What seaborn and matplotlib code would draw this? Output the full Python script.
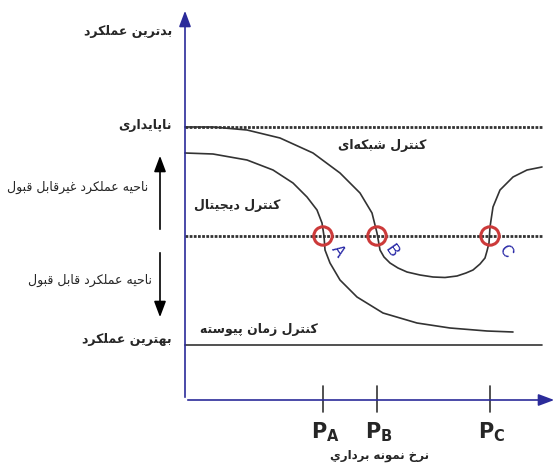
import matplotlib
matplotlib.use("Agg")
import matplotlib.pyplot as plt
import seaborn as sns
import pandas as pd

# Conceptual chart: performance vs. sampling rate (pixel-space reading of the picture)
digital_x = [185, 213, 247, 273, 293, 307, 317, 322, 324, 325, 330, 340, 357, 383, 417, 450, 487, 513]
digital_y = [153, 154, 160, 170, 183, 197, 210, 223, 236, 250, 263, 280, 297, 313, 323, 328, 331, 332]

network_x = [185, 213, 247, 280, 313, 340, 360, 372, 377, 380, 384, 390, 398, 407, 420, 433, 445,
             457, 466, 473, 480, 485, 487, 489, 490, 493, 500, 513, 527, 542]
network_y = [127, 127, 130, 138, 153, 173, 193, 213, 233, 250, 257, 263, 268, 272, 275, 277, 277.5,
             276, 273, 270, 264, 258, 251, 243, 227, 207, 190, 177, 170, 167]

point_names = ["A", "B", "C"]
point_x = [323, 377, 490]
threshold_y = 236
unstable_y = 127
best_y = 345
axis_y = 400
axis_x = 185

tick_labels = [r"$\mathbf{P}_{\mathbf{A}}$", r"$\mathbf{P}_{\mathbf{B}}$", r"$\mathbf{P}_{\mathbf{C}}$"]

# --- minimal Arabic/Persian shaping (presentation forms) ---
FORMS = {
    # char: (isolated, final, initial, medial)
    "\u0627": ("\uFE8D", "\uFE8E", None, None),
    "\u0628": ("\uFE8F", "\uFE90", "\uFE91", "\uFE92"),
    "\u067E": ("\uFB56", "\uFB57", "\uFB58", "\uFB59"),
    "\u062A": ("\uFE95", "\uFE96", "\uFE97", "\uFE98"),
    "\u062C": ("\uFE9D", "\uFE9E", "\uFE9F", "\uFEA0"),
    "\u062D": ("\uFEA1", "\uFEA2", "\uFEA3", "\uFEA4"),
    "\u062E": ("\uFEA5", "\uFEA6", "\uFEA7", "\uFEA8"),
    "\u062F": ("\uFEA9", "\uFEAA", None, None),
    "\u0631": ("\uFEAD", "\uFEAE", None, None),
    "\u0632": ("\uFEAF", "\uFEB0", None, None),
    "\u0633": ("\uFEB1", "\uFEB2", "\uFEB3", "\uFEB4"),
    "\u0634": ("\uFEB5", "\uFEB6", "\uFEB7", "\uFEB8"),
    "\u0639": ("\uFEC9", "\uFECA", "\uFECB", "\uFECC"),
    "\u063A": ("\uFECD", "\uFECE", "\uFECF", "\uFED0"),
    "\u0642": ("\uFED5", "\uFED6", "\uFED7", "\uFED8"),
    "\u06A9": ("\uFB8E", "\uFB8F", "\uFB90", "\uFB91"),
    "\u0644": ("\uFEDD", "\uFEDE", "\uFEDF", "\uFEE0"),
    "\u0645": ("\uFEE1", "\uFEE2", "\uFEE3", "\uFEE4"),
    "\u0646": ("\uFEE5", "\uFEE6", "\uFEE7", "\uFEE8"),
    "\u0647": ("\uFEE9", "\uFEEA", "\uFEEB", "\uFEEC"),
    "\u0648": ("\uFEED", "\uFEEE", None, None),
    "\u06CC": ("\uFBFC", "\uFBFD", "\uFBFE", "\uFBFF"),
    "\u064A": ("\uFEF1", "\uFEF2", "\uFEF3", "\uFEF4"),
}


def dual(c):
    return c in FORMS and FORMS[c][2] is not None


def shape(text):
    out = []
    for i, c in enumerate(text):
        if c not in FORMS:
            if c != "\u200c":
                out.append(c)
            continue
        prev = text[i - 1] if i > 0 else ""
        nxt = text[i + 1] if i + 1 < len(text) else ""
        join_prev = dual(prev)
        join_next = dual(c) and nxt in FORMS
        iso, fin, ini, med = FORMS[c]
        if join_prev and join_next:
            out.append(med)
        elif join_prev:
            out.append(fin)
        elif join_next:
            out.append(ini)
        else:
            out.append(iso)
    return "".join(reversed(out))


sns.set_theme(style="white")
plt.rcParams["font.family"] = ["DejaVu Sans"]
plt.rcParams["mathtext.fontset"] = "dejavusans"

fig = plt.figure(figsize=(5.58, 4.68), dpi=100)
ax = fig.add_axes([0, 0, 1, 1])
ax.set_xlim(0, 558)
ax.set_ylim(468, 0)
ax.axis("off")

axis_col = "#2b2b9a"
line_col = "#333333"
arrow = "-|>,head_length=0.8,head_width=0.3"

# axes with arrows
ax.annotate("", xy=(axis_x, 8), xytext=(axis_x, axis_y),
            arrowprops=dict(arrowstyle=arrow, color=axis_col, lw=1.2))
ax.annotate("", xy=(557, axis_y), xytext=(axis_x, axis_y),
            arrowprops=dict(arrowstyle=arrow, color=axis_col, lw=1.2))

# reference lines
dots = (0, (1, 0.5))
sns.lineplot(x=[axis_x, 543], y=[unstable_y, unstable_y], ax=ax, color=line_col, lw=2, linestyle=dots)
sns.lineplot(x=[axis_x, 543], y=[threshold_y, threshold_y], ax=ax, color=line_col, lw=2, linestyle=dots)
sns.lineplot(x=[axis_x, 542], y=[best_y, best_y], ax=ax, color=line_col, lw=1.2)

# curves
curves = pd.DataFrame({"x": digital_x, "y": digital_y})
sns.lineplot(data=curves, x="x", y="y", sort=False, estimator=None, ax=ax, color=line_col, lw=1.2)
curves = pd.DataFrame({"x": network_x, "y": network_y})
sns.lineplot(data=curves, x="x", y="y", sort=False, estimator=None, ax=ax, color=line_col, lw=1.2)

# intersection markers
sns.scatterplot(x=point_x, y=[threshold_y] * 3, ax=ax, s=175, facecolor="none",
                edgecolor="#cc3a3a", linewidth=2.2, zorder=5)
for name, px in zip(point_names, point_x):
    ax.text(px + 15, threshold_y + 15, name, color="#2525a5", fontsize=12,
            rotation=-55, ha="center", va="center", family="Liberation Sans")

# ticks and tick labels
for lab, px in zip(tick_labels, point_x):
    sns.lineplot(x=[px, px], y=[386, 412], ax=ax, color=line_col, lw=1.2,
                 estimator=None, sort=False)
    ax.text(px + 2, 432, lab, fontsize=15, ha="center", va="center")

ax.text(380, 456, shape("نرخ نمونه برداري"), fontsize=8.5, fontweight="bold", ha="center", va="center")

# y-axis labels
ax.text(172, 31, shape("بدترین عملکرد"), fontsize=9, fontweight="bold", ha="right", va="center")
ax.text(172, 126, shape("ناپایداری"), fontsize=9, fontweight="bold", ha="right", va="center")
ax.text(172, 340, shape("بهترین عملکرد"), fontsize=9, fontweight="bold", ha="right", va="center")

ax.text(78, 187, shape("ناحیه عملکرد غیرقابل قبول"), fontsize=9, ha="center", va="center")
ax.text(90, 280, shape("ناحیه عملکرد قابل قبول"), fontsize=9, ha="center", va="center")
ax.annotate("", xy=(160, 153), xytext=(160, 232),
            arrowprops=dict(arrowstyle=arrow, color="black", lw=1.2))
ax.annotate("", xy=(160, 320), xytext=(160, 250),
            arrowprops=dict(arrowstyle=arrow, color="black", lw=1.2))

# curve labels
ax.text(382, 145, shape("کنترل شبکه\u200cای"), fontsize=9, fontweight="bold", ha="center", va="center")
ax.text(237, 205, shape("کنترل دیجیتال"), fontsize=9, fontweight="bold", ha="center", va="center")
ax.text(259, 329, shape("کنترل زمان پیوسته"), fontsize=9, fontweight="bold", ha="center", va="center")

plt.savefig("out.png", dpi=100)
